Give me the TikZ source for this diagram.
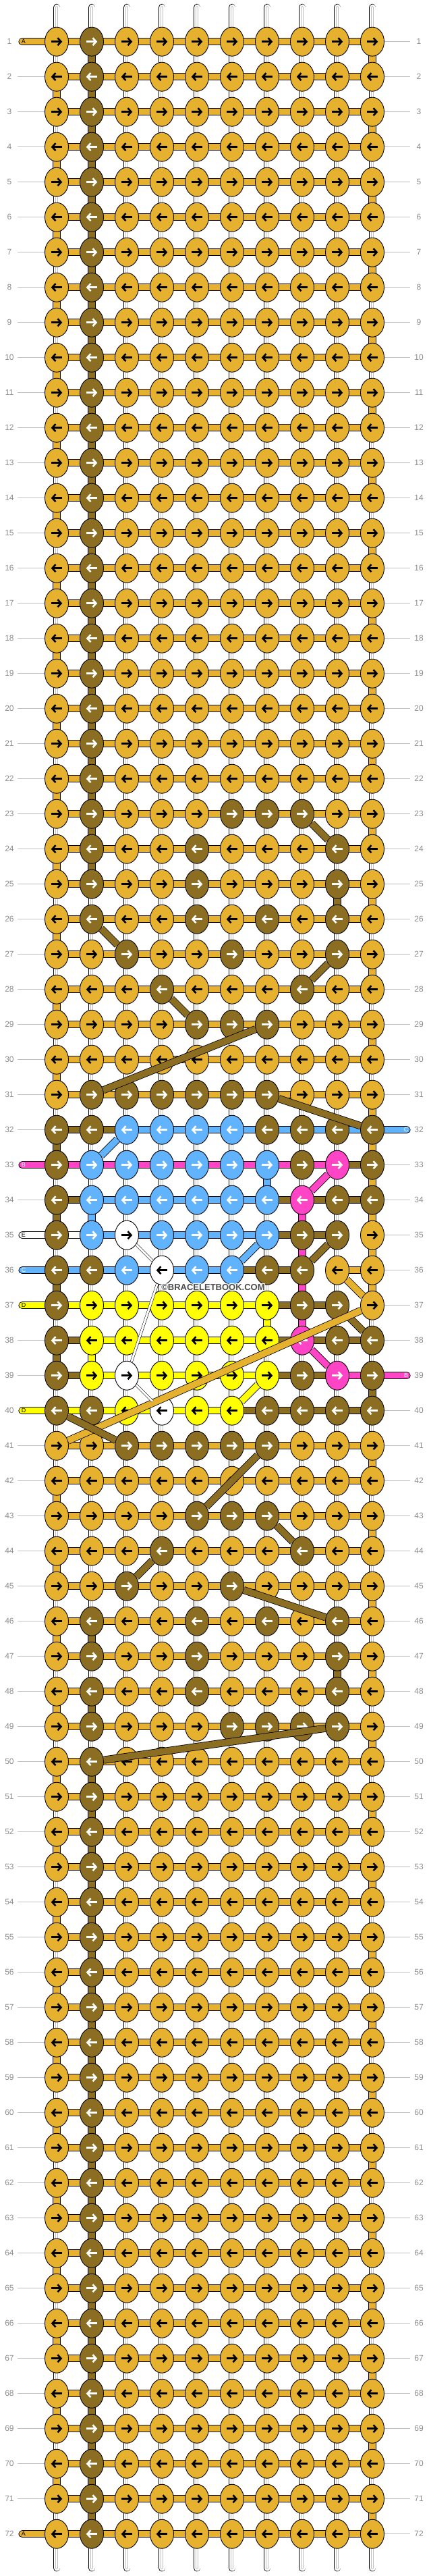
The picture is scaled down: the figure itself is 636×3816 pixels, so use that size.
\documentclass[tikz,border=0pt]{standalone}
\usepackage{fontspec}
\setmainfont{Liberation Sans}
\usepackage{tikz}
\usetikzlibrary{shapes.geometric}

\definecolor{cG}{HTML}{E5B12E}
\definecolor{cB}{HTML}{8B6E22}
\definecolor{cL}{HTML}{62B3FE}
\definecolor{cP}{HTML}{FF45C5}
\definecolor{cY}{HTML}{FFFF00}
\definecolor{cW}{HTML}{FFFFFF}
\colorlet{acG}{black}
\colorlet{acB}{white}
\colorlet{acL}{white}
\colorlet{acP}{white}
\colorlet{acY}{black}
\colorlet{acW}{black}

\pgfdeclarelayer{bg}
\pgfdeclarelayer{fg}
\pgfsetlayers{bg,main,fg}

\tikzset{
  knot/.style 2 args={ellipse, draw=black, line width=0.9pt, fill=c#1,
    minimum width=35pt, minimum height=43pt, inner sep=0pt,
    path picture={
      \draw[color=ac#1, line width=2.6pt]
        ([xshift={-8pt*(#2)}]path picture bounding box.center) --
        ([xshift={6.5pt*(#2)}]path picture bounding box.center);
      \draw[color=ac#1, line width=2.6pt, line join=miter]
        ([xshift={1.5pt*(#2)},yshift=-5.5pt]path picture bounding box.center) --
        ([xshift={6.5pt*(#2)}]path picture bounding box.center) --
        ([xshift={1.5pt*(#2)},yshift=5.5pt]path picture bounding box.center);
    }},
  seg/.style={draw=black, line width=0.8pt, double=#1, double distance=9.5pt},
  warp/.style={draw=black, line width=0.8pt, double=white, double distance=9pt},
  warpline/.style={draw=black!25, line width=0.6pt, double=white, double distance=2.5pt},
  wire/.style={draw=black, line width=0.5pt, double=white, double distance=3pt},
  rowline/.style={draw=black!25, line width=0.8pt},
  rownum/.style={text=black!45, font=\fontsize{12}{12}\selectfont, inner sep=0pt},
  tag/.style={font=\fontsize{9}{9}\selectfont, inner sep=0pt},
  wmtext/.style={font=\fontsize{13}{13}\selectfont\bfseries, inner sep=0pt},
}

% knot colours of the rows that differ from G,B,G,G,G,G,G,G,G,G
\newcommand\knotrow[2]{\expandafter\def\csname kr#1\endcsname{#2}}
\knotrow{23}{G,B,G,G,G,B,B,B,G,G}
\knotrow{24}{G,B,G,G,B,G,G,G,B,G}
\knotrow{25}{G,B,G,G,B,G,G,G,B,G}
\knotrow{26}{G,B,G,G,B,G,B,G,B,G}
\knotrow{27}{G,G,B,G,G,B,G,G,B,G}
\knotrow{28}{G,G,G,B,G,G,G,B,G,G}
\knotrow{29}{G,G,G,G,B,B,B,G,G,G}
\knotrow{30}{G,G,G,G,G,G,G,G,G,G}
\knotrow{31}{G,B,B,B,B,B,B,G,G,G}
\knotrow{32}{B,B,L,L,L,L,B,B,B,B}
\knotrow{33}{B,L,L,L,L,L,L,B,P,B}
\knotrow{34}{B,L,L,L,L,L,L,P,B,B}
\knotrow{35}{B,L,W,L,L,L,L,B,B,G}
\knotrow{36}{B,B,L,W,L,L,B,B,G,G}
\knotrow{37}{B,Y,Y,Y,Y,Y,Y,B,B,G}
\knotrow{38}{B,Y,Y,Y,Y,Y,Y,P,B,B}
\knotrow{39}{B,Y,W,Y,Y,Y,Y,B,P,B}
\knotrow{40}{B,B,Y,W,Y,Y,B,B,B,B}
\knotrow{41}{G,G,B,B,B,B,B,G,G,G}
\knotrow{42}{G,G,G,G,G,G,G,G,G,G}
\knotrow{43}{G,G,G,G,B,B,B,G,G,G}
\knotrow{44}{G,G,G,B,G,G,G,B,G,G}
\knotrow{45}{G,G,B,G,G,B,G,G,G,G}
\knotrow{46}{G,B,G,G,B,G,B,G,B,G}
\knotrow{47}{G,B,G,G,B,G,G,G,B,G}
\knotrow{48}{G,B,G,G,B,G,G,G,B,G}
\knotrow{49}{G,B,G,G,G,B,B,B,B,G}

% horizontal strings (N = none)
\newcommand\segrow[2]{\expandafter\def\csname hr#1\endcsname{#2}}
\segrow{32}{B,B,L,L,L,L,L,L,L}
\segrow{33}{P,P,P,P,P,P,P,P,B}
\segrow{34}{B,L,L,L,L,L,B,B,B}
\segrow{35}{W,L,L,L,L,L,B,B,N}
\segrow{36}{L,L,L,L,L,B,B,N,G}
\segrow{37}{Y,Y,Y,Y,Y,Y,B,B,N}
\segrow{38}{B,Y,Y,Y,Y,Y,B,B,B}
\segrow{39}{B,Y,Y,Y,Y,Y,B,B,P}
\segrow{40}{Y,Y,Y,Y,Y,B,B,B,B}

% vertical strings between row #1 and the next one (w = plain warp)
\newcommand\vseg[3]{\expandafter\gdef\csname v-#1-#2\endcsname{#3}}
\foreach \rr in {1,3,...,71}{\vseg{\rr}{10}{G}}
\foreach \rr in {2,4,...,70}{\vseg{\rr}{1}{G}}
\foreach \rr in {1,...,24,46,48,50,51,...,71}{\vseg{\rr}{2}{B}}
\vseg{25}{9}{B} \vseg{47}{9}{B}
\vseg{32}{1}{B} \vseg{32}{10}{G} \vseg{33}{7}{L}
\vseg{34}{1}{B} \vseg{34}{2}{L} \vseg{34}{8}{P} \vseg{34}{10}{G}
\vseg{35}{8}{P}
\vseg{36}{1}{B} \vseg{36}{8}{P} \vseg{36}{10}{G}
\vseg{37}{7}{Y} \vseg{37}{8}{P} \vseg{37}{10}{w}
\vseg{38}{1}{B} \vseg{38}{2}{Y}
\vseg{39}{10}{B}
\vseg{40}{1}{w}

\begin{document}
\begin{tikzpicture}[x=1pt,y=-1pt]
\useasboundingbox (0,0) rectangle (636,3816);

% knots
\foreach \rr in {1,...,72}{
  \ifcsname kr\rr\endcsname
    \edef\ks{\csname kr\rr\endcsname}
  \else
    \def\ks{G,B,G,G,G,G,G,G,G,G}
  \fi
  \pgfmathtruncatemacro\dir{mod(\rr,2)==1 ? 1 : -1}
  \foreach \kc [count=\cc] in \ks
    \node[knot={\kc}{\dir}] (k-\rr-\cc) at ({84+52*(\cc-1)},{61.7+52*(\rr-1)}) {};
  \node[rownum] (ln-\rr) at (14,{61.7+52*(\rr-1)}) {\rr};
  \node[rownum] (rn-\rr) at (621,{61.7+52*(\rr-1)}) {\rr};
}

\begin{pgfonlayer}{bg}
  % warps and turns
  \foreach \rr in {1,...,71}{
    \pgfmathtruncatemacro\nx{\rr+1}
    \foreach \cc in {1,...,10}{
      \ifcsname v-\rr-\cc\endcsname
        \edef\vs{\csname v-\rr-\cc\endcsname}
      \else
        \def\vs{w}
      \fi
      \if\vs w
        \draw[warp] (k-\rr-\cc.center) -- (k-\nx-\cc.center);
        \draw[warpline] (k-\rr-\cc.center) -- (k-\nx-\cc.center);
      \else
        \draw[seg=c\vs] (k-\rr-\cc.center) -- (k-\nx-\cc.center);
      \fi
    }
  }
  \foreach \cc in {1,...,10}{
    \coordinate (t-\cc) at ({84+52*(\cc-1)},11);
    \coordinate (u-\cc) at ({84+52*(\cc-1)},3804);
    \draw[warp, line cap=round] (t-\cc) -- (k-1-\cc.center);
    \draw[warpline, line cap=round] (t-\cc) -- (k-1-\cc.center);
    \draw[warp, line cap=round] (k-72-\cc.center) -- (u-\cc);
    \draw[warpline, line cap=round] (k-72-\cc.center) -- (u-\cc);
  }
  % working strings
  \foreach \rr in {1,...,72}{
    \ifcsname hr\rr\endcsname
      \edef\hs{\csname hr\rr\endcsname}
    \else
      \def\hs{G,G,G,G,G,G,G,G,G}
    \fi
    \foreach \sc [count=\cc] in \hs {
      \pgfmathtruncatemacro\nx{\cc+1}
      \if\sc N\else
        \draw[seg=c\sc] (k-\rr-\cc.center) -- (k-\rr-\nx.center);
      \fi
    }
  }
  % loose ends
  \foreach \rr/\sc in {1/G,33/P,35/W,36/L,37/Y,40/Y,72/G}{
    \coordinate (sl-\rr) at (33,{61.7+52*(\rr-1)});
    \draw[seg=c\sc, line cap=round] (sl-\rr) -- (k-\rr-1.center);
    \expandafter\gdef\csname sl\rr\endcsname{}
  }
  \foreach \rr/\sc in {32/L,39/P}{
    \coordinate (sr-\rr) at (603,{61.7+52*(\rr-1)});
    \draw[seg=c\sc, line cap=round] (k-\rr-10.center) -- (sr-\rr);
    \expandafter\gdef\csname sr\rr\endcsname{}
  }
  % row lines
  \foreach \rr in {1,...,72}{
    \coordinate (lg-\rr) at (26,{61.7+52*(\rr-1)});
    \coordinate (rg-\rr) at (608,{61.7+52*(\rr-1)});
    \ifcsname sl\rr\endcsname\else \draw[rowline] (lg-\rr) -- (k-\rr-1); \fi
    \ifcsname sr\rr\endcsname\else \draw[rowline] (k-\rr-10) -- (rg-\rr); \fi
  }
\end{pgfonlayer}

\begin{pgfonlayer}{fg}
  % strings that move over
  \foreach \ra/\ca/\rb/\cb/\sc in {23/8/24/9/B, 26/2/27/3/B, 27/9/28/8/B,
      28/4/29/5/B, 29/7/31/2/B, 31/7/32/10/B, 32/3/33/2/L, 33/9/34/8/P,
      35/7/36/6/L, 35/9/36/8/B, 36/9/37/10/G, 37/9/38/10/B, 37/10/41/1/G,
      38/8/39/9/P, 39/7/40/6/Y, 40/1/41/3/B, 41/7/43/5/B, 43/7/44/8/B,
      44/4/45/3/B, 45/6/46/9/B, 49/9/50/2/B}
    \draw[seg=c\sc] (k-\ra-\ca) -- (k-\rb-\cb);
  \foreach \ra/\ca/\rb/\cb in {35/3/36/4, 36/4/39/3, 39/3/40/4}
    \draw[wire] (k-\ra-\ca) -- (k-\rb-\cb);
  % tags of the loose ends
  \foreach \rr/\sc/\tx in {1/G/A,33/P/B,35/W/E,36/L/C,37/Y/D,40/Y/D,72/G/A}
    \node[tag, text=ac\sc] (tl-\rr) at (35,{61.7+52*(\rr-1)}) {\tx};
  \foreach \rr/\sc/\tx in {32/L/C,39/P/B}
    \node[tag, text=ac\sc] (tr-\rr) at (602,{61.7+52*(\rr-1)}) {\tx};
  % watermark
  \foreach \dx/\dy [count=\i] in {1/0,-1/0,0/1,0/-1,1/1,1/-1,-1/1,-1/-1}
    \node[wmtext, text=white] (wm-\i) at ({316+\dx},{1907+\dy}) {\textcopyright BRACELETBOOK.COM};
  \node[wmtext, text=black!70] (wm) at (316,1907) {\textcopyright BRACELETBOOK.COM};
\end{pgfonlayer}
\end{tikzpicture}
\end{document}
